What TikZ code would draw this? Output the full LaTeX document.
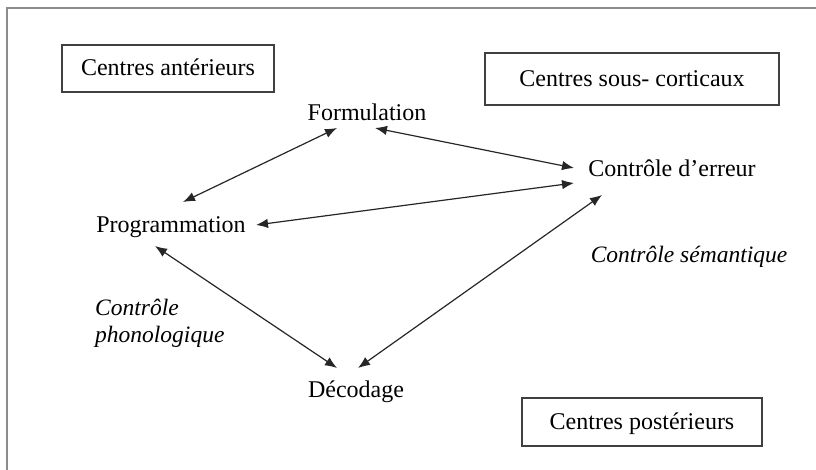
\documentclass[tikz,border=0pt]{standalone}
\usepackage{fontspec}
\setmainfont{Liberation Serif}
\usetikzlibrary{arrows.meta,calc}
\begin{document}
\begin{tikzpicture}[x=1pt,y=-1pt,
  txt/.style={inner sep=0pt,font=\fontsize{24}{27}\selectfont},
  itxt/.style={txt,font=\fontsize{23.5}{27}\selectfont\itshape},
  boxnode/.style={txt,draw=black!75,line width=1.4pt,text height=15pt,text depth=0pt},
  arr/.style={line width=1.2pt,black!85,{Latex[length=12pt,width=9.5pt]}-{Latex[length=12pt,width=9.5pt]}}]
\useasboundingbox (0,0) rectangle (816,470);
% frame
\draw[black!45,line width=2pt] (7,470) -- (7,8) -- (816,8);
% boxes
\node[boxnode,minimum width=212pt,minimum height=47pt] (ant) at (168,68.5) {Centres antérieurs};
\node[boxnode,minimum width=294pt,minimum height=52pt] (sous) at (632,79) {Centres sous- corticaux};
\node[boxnode,minimum width=240pt,minimum height=48pt] (post) at (642,422) {Centres postérieurs};
% text nodes
\node[txt,anchor=base] (form) at (367,121) {Formulation};
\node[txt,anchor=base] (prog) at (171,233) {Programmation};
\node[txt,anchor=base] (ctrl) at (672,177) {Contrôle d’erreur};
\node[itxt,anchor=base] (sem) at (689,262) {Contrôle sémantique};
\node[txt,anchor=base] (deco) at (356,397) {Décodage};
\node[itxt,anchor=base west,align=left] (phon) at (95,342) {Contrôle\\phonologique};
% connectors
\draw[arr] ($(form.base)+(-30,7)$) -- ($(prog.base)+(12,-31)$);
\draw[arr] ($(form.base)+(8,7)$) -- ($(ctrl.base)+(-98,-9)$);
\draw[arr] ($(prog.base)+(85,-8)$) -- ($(ctrl.base)+(-98,6)$);
\draw[arr] ($(prog.base)+(-16,13)$) -- ($(deco.base)+(-19,-29)$);
\draw[arr] ($(ctrl.base)+(-70,18)$) -- ($(deco.base)+(2,-29)$);
\end{tikzpicture}
\end{document}
